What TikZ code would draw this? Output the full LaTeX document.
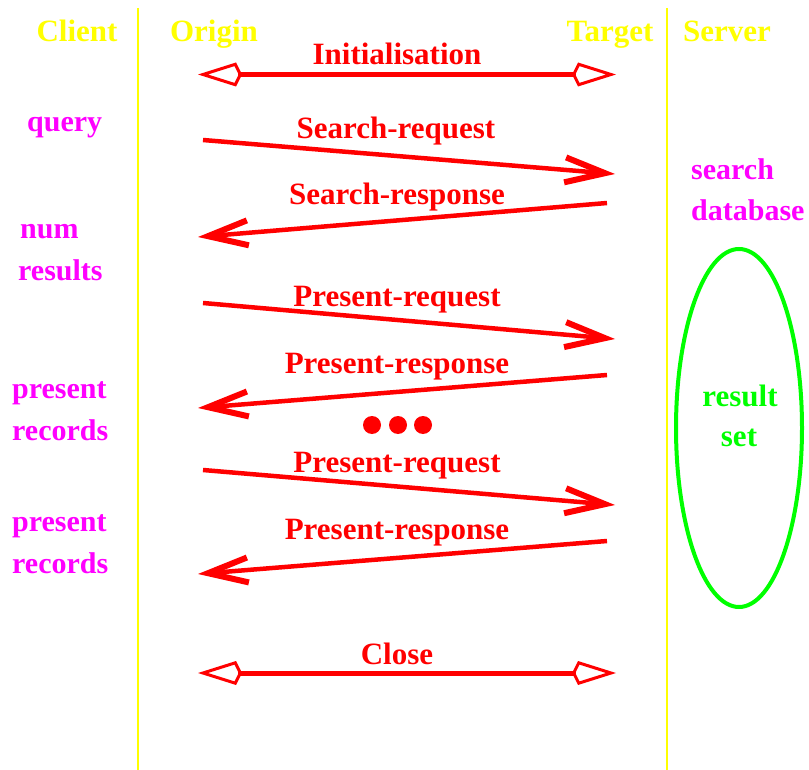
\documentclass[tikz,border=0pt]{standalone}
\usepackage{fontspec}
\setmainfont{Liberation Serif}
\usetikzlibrary{arrows.meta}
\definecolor{roleyellow}{RGB}{255,255,0}
\definecolor{msgred}{RGB}{255,0,0}
\definecolor{actmagenta}{RGB}{255,0,255}
\definecolor{setgreen}{RGB}{0,255,0}
\tikzset{
  lbl/.style={inner sep=0pt, font=\fontsize{31}{33}\selectfont\bfseries},
  role/.style={lbl, text=roleyellow, anchor=base},
  msglabel/.style={lbl, text=msgred, anchor=base},
  act/.style={lbl, font=\fontsize{30}{32}\selectfont\bfseries, text=actmagenta, anchor=base west},
  setlabel/.style={lbl, text=setgreen, anchor=base},
  lifeline/.style={draw=roleyellow, line width=2pt},
  msg/.style={draw=msgred, line width=4.5pt,
    -{Straight Barb[length=40pt,width=25pt,line width=6pt]}},
  dblmsg/.style={draw=msgred, line width=5pt,
    {Kite[open,length=44pt,width=24pt,inset=6pt,line width=3pt]}-{Kite[open,length=44pt,width=24pt,inset=6pt,line width=3pt]}},
  dotmark/.style={circle, fill=msgred, inner sep=0pt, minimum size=18pt}
}
\begin{document}
\begin{tikzpicture}[x=1pt,y=-1pt]
\useasboundingbox (0,0) rectangle (809,770);

% lifelines
\coordinate (ltop) at (138,8);  \coordinate (lbot) at (138,770);
\coordinate (rtop) at (667,8);  \coordinate (rbot) at (667,770);
\draw[lifeline] (ltop) -- (lbot);
\draw[lifeline] (rtop) -- (rbot);

% role headings
\node[role] (client) at (77,42) {Client};
\node[role] (origin) at (214,42) {Origin};
\node[role] (target) at (610,42) {Target};
\node[role] (server) at (727,42) {Server};

% initialisation
\node[msglabel] (init) at (397,65) {Initialisation};
\coordinate (i1) at (198,74.5); \coordinate (i2) at (616,74.5);
\draw[dblmsg] (i1) -- (i2);

% search
\node[msglabel] (sreq) at (396,139) {Search-request};
\coordinate (s1) at (203,140); \coordinate (s2) at (615,174);
\draw[msg] (s1) -- (s2);
\node[msglabel] (sresp) at (397,205) {Search-response};
\coordinate (s3) at (607,203); \coordinate (s4) at (198,237);
\draw[msg] (s3) -- (s4);

% first present
\node[msglabel] (preq1) at (397,306) {Present-request};
\coordinate (p1) at (203,303); \coordinate (p2) at (615,339);
\draw[msg] (p1) -- (p2);
\node[msglabel] (presp1) at (397,373) {Present-response};
\coordinate (p3) at (607,375); \coordinate (p4) at (198,408);
\draw[msg] (p3) -- (p4);

% ellipsis
\node[dotmark] (d1) at (372,425) {};
\node[dotmark] (d2) at (398,425) {};
\node[dotmark] (d3) at (423,425) {};

% second present
\node[msglabel] (preq2) at (397,472) {Present-request};
\coordinate (q1) at (203,470); \coordinate (q2) at (615,505);
\draw[msg] (q1) -- (q2);
\node[msglabel] (presp2) at (397,539) {Present-response};
\coordinate (q3) at (607,541); \coordinate (q4) at (198,574);
\draw[msg] (q3) -- (q4);

% close
\node[msglabel] (close) at (397,664) {Close};
\coordinate (c1) at (198,673); \coordinate (c2) at (616,673);
\draw[dblmsg] (c1) -- (c2);

% client actions
\node[act] (query) at (27,132) {query};
\node[act] (num) at (20,239) {num};
\node[act] (results) at (18,280) {results};
\node[act] (pres1) at (12,398) {present};
\node[act] (rec1) at (12,440) {records};
\node[act] (pres2) at (12,531) {present};
\node[act] (rec2) at (12,573) {records};

% server side
\node[act] (search) at (691,180) {search};
\node[act] (db) at (691,221) {database};
\draw[setgreen, line width=4pt] (739,428) ellipse [x radius=63, y radius=179];
\node[setlabel] (res) at (740,406) {result};
\node[setlabel] (set) at (739,446) {set};
\end{tikzpicture}
\end{document}
